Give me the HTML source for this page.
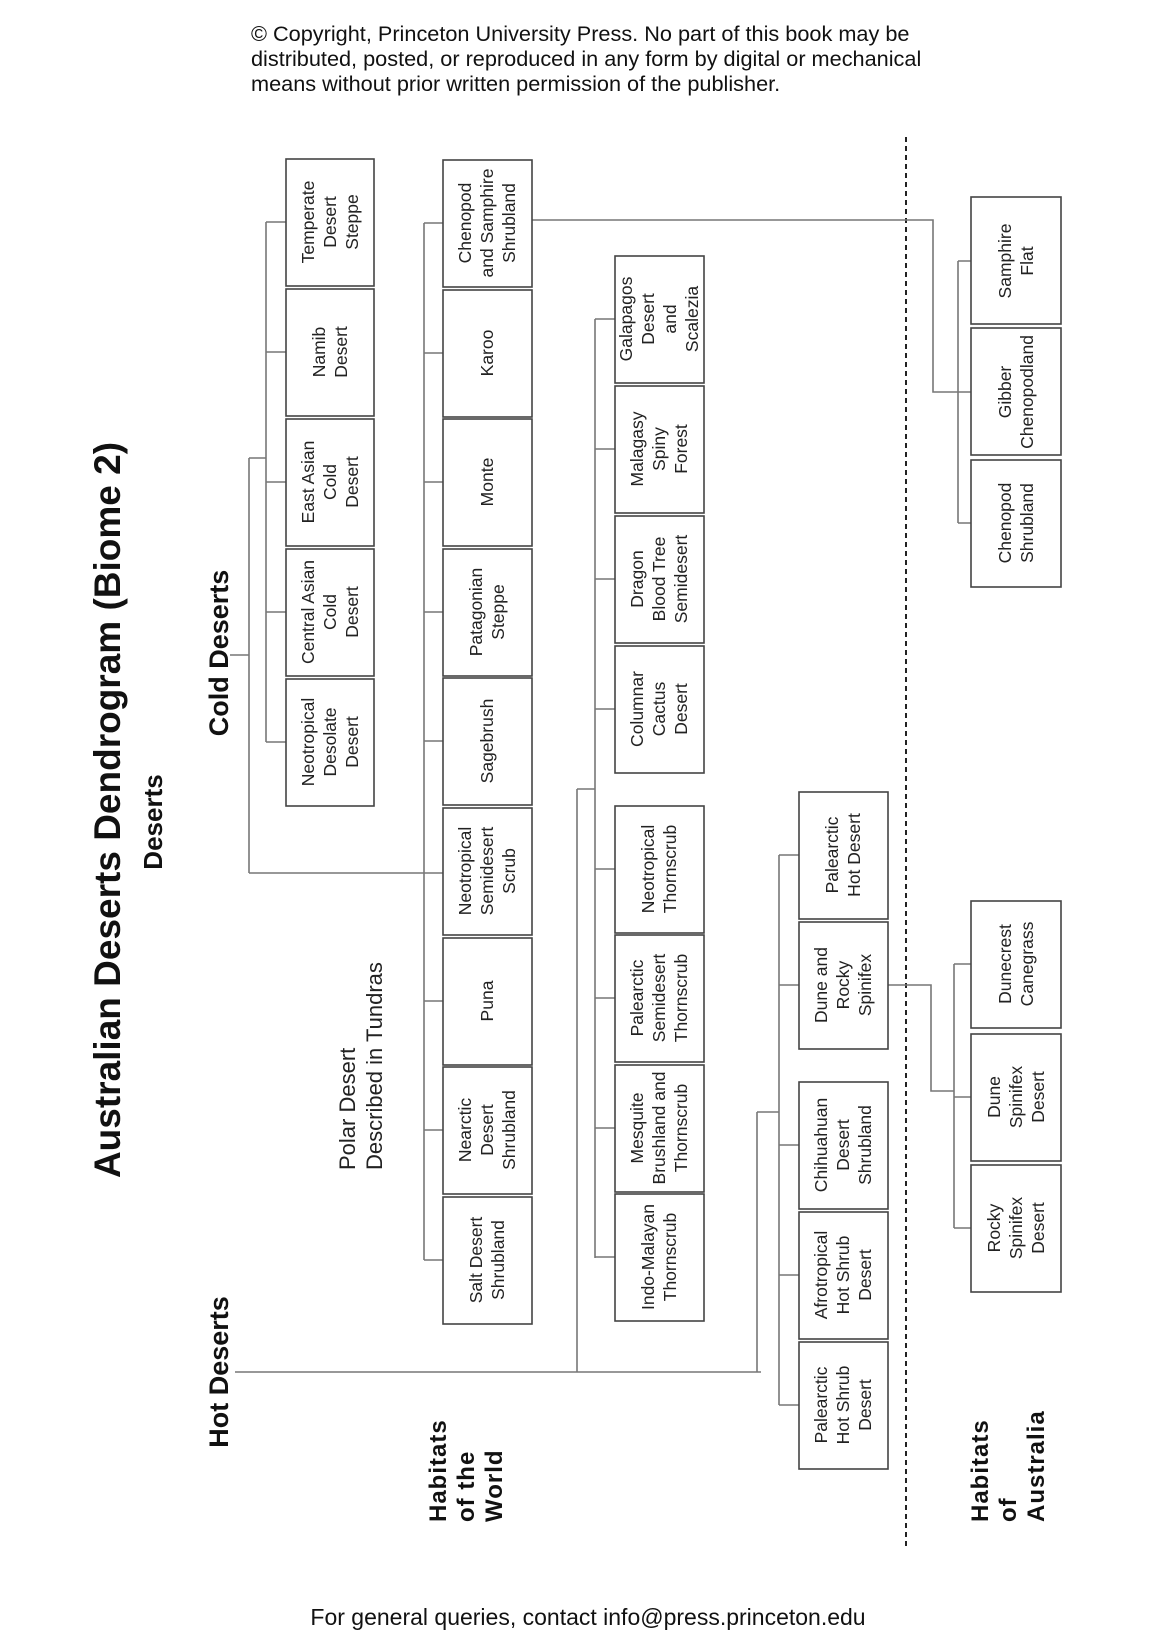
<!DOCTYPE html>
<html><head><meta charset="utf-8"><style>
html,body{margin:0;padding:0;background:#fff;}
svg{display:block;}
.b{fill:#fff;stroke:#444;stroke-width:1.6;}
.c{stroke:#777;stroke-width:1.6;fill:none;}
.t{font-family:"Liberation Sans",sans-serif;font-size:17.5px;fill:#222;text-anchor:middle;}
.h{font-family:"Liberation Sans",sans-serif;font-weight:bold;fill:#111;}
</style></head><body>
<svg width="1176" height="1650" viewBox="0 0 1176 1650" xmlns="http://www.w3.org/2000/svg">
<g font-family="Liberation Sans, sans-serif" font-size="21.7" fill="#111">
<text x="251" y="41">© Copyright, Princeton University Press. No part of this book may be</text>
<text x="251" y="66">distributed, posted, or reproduced in any form by digital or mechanical</text>
<text x="251" y="91">means without prior written permission of the publisher.</text>
<text x="588" y="1625" text-anchor="middle" font-size="23">For general queries, contact info@press.princeton.edu</text>
</g>
<!-- headings -->
<text class="h" font-size="37" text-anchor="middle" transform="translate(120,810) rotate(-90)">Australian Deserts Dendrogram (Biome 2)</text>
<text class="h" font-size="26" text-anchor="middle" transform="translate(162,822) rotate(-90)">Deserts</text>
<text class="h" font-size="27" text-anchor="middle" transform="translate(228,653) rotate(-90)">Cold Deserts</text>
<text class="h" font-size="27" text-anchor="middle" transform="translate(228,1372) rotate(-90)">Hot Deserts</text>
<text class="h" font-size="24" letter-spacing="1" transform="translate(446,1522) rotate(-90)"><tspan x="0" y="0">Habitats</tspan><tspan x="0" dy="28">of the</tspan><tspan x="0" dy="28">World</tspan></text>
<text class="h" font-size="24" letter-spacing="1" transform="translate(988,1522) rotate(-90)"><tspan x="0" y="0">Habitats</tspan><tspan x="0" dy="28">of</tspan><tspan x="0" dy="28">Australia</tspan></text>
<text font-family="Liberation Sans, sans-serif" font-size="22" fill="#222" transform="translate(355,1170) rotate(-90)"><tspan x="0" y="0">Polar Desert</tspan><tspan x="0" dy="27">Described in Tundras</tspan></text>

<!-- dashed divider -->
<line x1="906" y1="137" x2="906" y2="1548" stroke="#222" stroke-width="2" stroke-dasharray="5,4"/>

<!-- connectors -->
<g class="c">
<path d="M266 222V742 M266 222H286 M266 352H286 M266 482H286 M266 612H286 M266 742H286"/>
<path d="M230 655H249 M249 458V873 M249 458H266 M249 873H443"/>
<path d="M424 223V1260"/>
<path d="M424 223H443 M424 353H443 M424 482H443 M424 612H443 M424 741H443 M424 1001H443 M424 1130H443 M424 1260H443"/>
<path d="M235 1372H761"/>
<path d="M577 789V1372 M577 789H595 M595 319V1258"/>
<path d="M595 319H615 M595 449H615 M595 579H615 M595 709H615 M595 869H615 M595 998H615 M595 1128H615 M595 1257H615"/>
<path d="M757 1112V1372 M757 1112H779 M779 855V1405"/>
<path d="M779 855H799 M779 985H799 M779 1145H799 M779 1275H799 M779 1405H799"/>
<path d="M888 985H931V1091H954 M954 964V1228 M954 964H971 M954 1097H971 M954 1228H971"/>
<path d="M532 220H933V392H958 M958 261V523 M958 261H971 M958 392H971 M958 523H971"/>
</g>

<!-- boxes -->
<g>
<rect class="b" x="286" y="159" width="88" height="127"/>
<rect class="b" x="286" y="289" width="88" height="127"/>
<rect class="b" x="286" y="419" width="88" height="127"/>
<rect class="b" x="286" y="549" width="88" height="127"/>
<rect class="b" x="286" y="679" width="88" height="127"/>

<rect class="b" x="443" y="160" width="89" height="127"/>
<rect class="b" x="443" y="290" width="89" height="127"/>
<rect class="b" x="443" y="419" width="89" height="127"/>
<rect class="b" x="443" y="549" width="89" height="127"/>
<rect class="b" x="443" y="678" width="89" height="127"/>
<rect class="b" x="443" y="808" width="89" height="127"/>
<rect class="b" x="443" y="938" width="89" height="127"/>
<rect class="b" x="443" y="1067" width="89" height="127"/>
<rect class="b" x="443" y="1197" width="89" height="127"/>

<rect class="b" x="615" y="256" width="89" height="127"/>
<rect class="b" x="615" y="386" width="89" height="127"/>
<rect class="b" x="615" y="516" width="89" height="127"/>
<rect class="b" x="615" y="646" width="89" height="127"/>
<rect class="b" x="615" y="806" width="89" height="127"/>
<rect class="b" x="615" y="935" width="89" height="127"/>
<rect class="b" x="615" y="1065" width="89" height="127"/>
<rect class="b" x="615" y="1194" width="89" height="127"/>

<rect class="b" x="799" y="792" width="89" height="127"/>
<rect class="b" x="799" y="922" width="89" height="127"/>
<rect class="b" x="799" y="1082" width="89" height="127"/>
<rect class="b" x="799" y="1212" width="89" height="127"/>
<rect class="b" x="799" y="1342" width="89" height="127"/>

<rect class="b" x="971" y="197" width="90" height="127"/>
<rect class="b" x="971" y="328" width="90" height="127"/>
<rect class="b" x="971" y="460" width="90" height="127"/>
<rect class="b" x="971" y="901" width="90" height="127"/>
<rect class="b" x="971" y="1034" width="90" height="127"/>
<rect class="b" x="971" y="1165" width="90" height="127"/>
</g>

<g class="t">
<text transform="translate(330,222) rotate(-90)"><tspan x="0" y="-16">Temperate</tspan><tspan x="0" dy="22">Desert</tspan><tspan x="0" dy="22">Steppe</tspan></text>
<text transform="translate(330,352) rotate(-90)"><tspan x="0" y="-5">Namib</tspan><tspan x="0" dy="22">Desert</tspan></text>
<text transform="translate(330,482) rotate(-90)"><tspan x="0" y="-16">East Asian</tspan><tspan x="0" dy="22">Cold</tspan><tspan x="0" dy="22">Desert</tspan></text>
<text transform="translate(330,612) rotate(-90)"><tspan x="0" y="-16">Central Asian</tspan><tspan x="0" dy="22">Cold</tspan><tspan x="0" dy="22">Desert</tspan></text>
<text transform="translate(330,742) rotate(-90)"><tspan x="0" y="-16">Neotropical</tspan><tspan x="0" dy="22">Desolate</tspan><tspan x="0" dy="22">Desert</tspan></text>

<text transform="translate(487,223) rotate(-90)"><tspan x="0" y="-16">Chenopod</tspan><tspan x="0" dy="22">and Samphire</tspan><tspan x="0" dy="22">Shrubland</tspan></text>
<text transform="translate(487,353) rotate(-90)"><tspan x="0" y="6">Karoo</tspan></text>
<text transform="translate(487,482) rotate(-90)"><tspan x="0" y="6">Monte</tspan></text>
<text transform="translate(487,612) rotate(-90)"><tspan x="0" y="-5">Patagonian</tspan><tspan x="0" dy="22">Steppe</tspan></text>
<text transform="translate(487,741) rotate(-90)"><tspan x="0" y="6">Sagebrush</tspan></text>
<text transform="translate(487,871) rotate(-90)"><tspan x="0" y="-16">Neotropical</tspan><tspan x="0" dy="22">Semidesert</tspan><tspan x="0" dy="22">Scrub</tspan></text>
<text transform="translate(487,1001) rotate(-90)"><tspan x="0" y="6">Puna</tspan></text>
<text transform="translate(487,1130) rotate(-90)"><tspan x="0" y="-16">Nearctic</tspan><tspan x="0" dy="22">Desert</tspan><tspan x="0" dy="22">Shrubland</tspan></text>
<text transform="translate(487,1260) rotate(-90)"><tspan x="0" y="-5">Salt Desert</tspan><tspan x="0" dy="22">Shrubland</tspan></text>

<text transform="translate(659,319) rotate(-90)"><tspan x="0" y="-27">Galapagos</tspan><tspan x="0" dy="22">Desert</tspan><tspan x="0" dy="22">and</tspan><tspan x="0" dy="22">Scalezia</tspan></text>
<text transform="translate(659,449) rotate(-90)"><tspan x="0" y="-16">Malagasy</tspan><tspan x="0" dy="22">Spiny</tspan><tspan x="0" dy="22">Forest</tspan></text>
<text transform="translate(659,579) rotate(-90)"><tspan x="0" y="-16">Dragon</tspan><tspan x="0" dy="22">Blood Tree</tspan><tspan x="0" dy="22">Semidesert</tspan></text>
<text transform="translate(659,709) rotate(-90)"><tspan x="0" y="-16">Columnar</tspan><tspan x="0" dy="22">Cactus</tspan><tspan x="0" dy="22">Desert</tspan></text>
<text transform="translate(659,869) rotate(-90)"><tspan x="0" y="-5">Neotropical</tspan><tspan x="0" dy="22">Thornscrub</tspan></text>
<text transform="translate(659,998) rotate(-90)"><tspan x="0" y="-16">Palearctic</tspan><tspan x="0" dy="22">Semidesert</tspan><tspan x="0" dy="22">Thornscrub</tspan></text>
<text transform="translate(659,1128) rotate(-90)"><tspan x="0" y="-16">Mesquite</tspan><tspan x="0" dy="22">Brushland and</tspan><tspan x="0" dy="22">Thornscrub</tspan></text>
<text transform="translate(659,1257) rotate(-90)"><tspan x="0" y="-5">Indo-Malayan</tspan><tspan x="0" dy="22">Thornscrub</tspan></text>

<text transform="translate(843,855) rotate(-90)"><tspan x="0" y="-5">Palearctic</tspan><tspan x="0" dy="22">Hot Desert</tspan></text>
<text transform="translate(843,985) rotate(-90)"><tspan x="0" y="-16">Dune and</tspan><tspan x="0" dy="22">Rocky</tspan><tspan x="0" dy="22">Spinifex</tspan></text>
<text transform="translate(843,1145) rotate(-90)"><tspan x="0" y="-16">Chihuahuan</tspan><tspan x="0" dy="22">Desert</tspan><tspan x="0" dy="22">Shrubland</tspan></text>
<text transform="translate(843,1275) rotate(-90)"><tspan x="0" y="-16">Afrotropical</tspan><tspan x="0" dy="22">Hot Shrub</tspan><tspan x="0" dy="22">Desert</tspan></text>
<text transform="translate(843,1405) rotate(-90)"><tspan x="0" y="-16">Palearctic</tspan><tspan x="0" dy="22">Hot Shrub</tspan><tspan x="0" dy="22">Desert</tspan></text>

<text transform="translate(1016,261) rotate(-90)"><tspan x="0" y="-5">Samphire</tspan><tspan x="0" dy="22">Flat</tspan></text>
<text transform="translate(1016,392) rotate(-90)"><tspan x="0" y="-5">Gibber</tspan><tspan x="0" dy="22">Chenopodland</tspan></text>
<text transform="translate(1016,523) rotate(-90)"><tspan x="0" y="-5">Chenopod</tspan><tspan x="0" dy="22">Shrubland</tspan></text>
<text transform="translate(1016,964) rotate(-90)"><tspan x="0" y="-5">Dunecrest</tspan><tspan x="0" dy="22">Canegrass</tspan></text>
<text transform="translate(1016,1097) rotate(-90)"><tspan x="0" y="-16">Dune</tspan><tspan x="0" dy="22">Spinifex</tspan><tspan x="0" dy="22">Desert</tspan></text>
<text transform="translate(1016,1228) rotate(-90)"><tspan x="0" y="-16">Rocky</tspan><tspan x="0" dy="22">Spinifex</tspan><tspan x="0" dy="22">Desert</tspan></text>
</g>
</svg>
</body></html>
